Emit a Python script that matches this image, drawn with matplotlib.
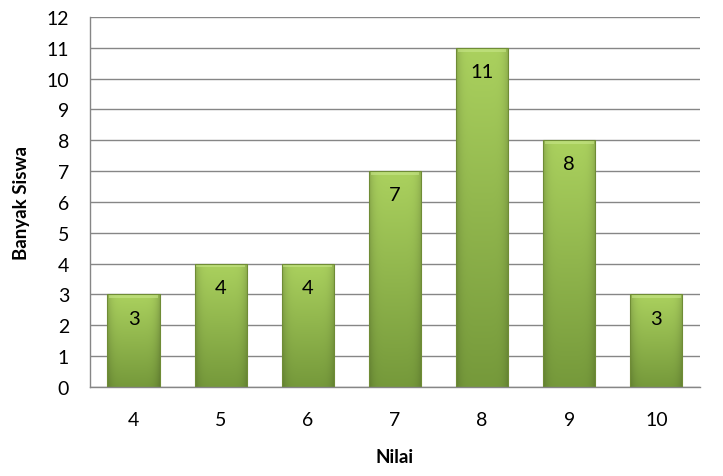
import numpy as np
import matplotlib.pyplot as plt

plt.rcParams['font.family'] = ['Lato', 'DejaVu Sans']

nilai = ['4', '5', '6', '7', '8', '9', '10']
banyak = [3, 4, 4, 7, 11, 8, 3]

fig = plt.figure(figsize=(7.23, 4.77), dpi=100)
ax = fig.add_axes([0.1245, 0.1866, 0.8435, 0.7757])

x = np.arange(len(nilai))
bars = ax.bar(x, banyak, width=0.6, color='none', edgecolor='#6f8c36', linewidth=0.8, zorder=3)

# vertical gradient (light top, dark bottom) with darker side edges
top = np.array([0.67, 0.82, 0.37])
bot = np.array([0.46, 0.60, 0.23])
ny, nx = 200, 60
v = np.linspace(0, 1, ny)[:, None]
h = np.linspace(-1, 1, nx)[None, :]
shade = 1 - 0.18 * np.abs(h) ** 6
img = (bot + (top - bot) * v[..., None]) * shade[..., None]
img = np.clip(img, 0, 1)

for b in bars:
    x0, y0 = b.get_x(), b.get_y()
    w, hgt = b.get_width(), b.get_height()
    im = ax.imshow(img, origin='lower', extent=[x0, x0 + w, y0, y0 + hgt],
                   aspect='auto', zorder=2, interpolation='bilinear')
    im.set_clip_path(b)
    # light bevel at the top
    ax.fill_between([x0 + 0.02, x0 + w - 0.02], y0 + hgt - 0.12, y0 + hgt,
                    color='#c8e68a', alpha=0.6, zorder=2.5, linewidth=0)

for xi, val in zip(x, banyak):
    ax.annotate(str(val), (xi, val), xytext=(0, -17), textcoords='offset points',
                ha='center', va='center', fontsize=14.5, color='black', zorder=4)

ax.set_xlim(-0.5, len(nilai) - 0.5)
ax.set_ylim(0, 12)
ax.set_yticks(range(0, 13))
ax.set_xticks(x)
ax.set_xticklabels(nilai)
ax.tick_params(axis='both', length=0, labelsize=14)
ax.tick_params(axis='y', pad=15)
ax.tick_params(axis='x', pad=17)
ax.yaxis.grid(True, color='#868686', linewidth=1, zorder=0)
ax.set_axisbelow(True)
for s in ['top', 'right']:
    ax.spines[s].set_visible(False)
for s in ['left', 'bottom']:
    ax.spines[s].set_color('#868686')
    ax.spines[s].set_linewidth(1)

ax.set_xlabel('Nilai', fontsize=13.5, fontweight='bold', labelpad=15)
ax.set_ylabel('Banyak Siswa', fontsize=13.5, fontweight='bold', labelpad=12)

fig.savefig('out.png', dpi=100)
